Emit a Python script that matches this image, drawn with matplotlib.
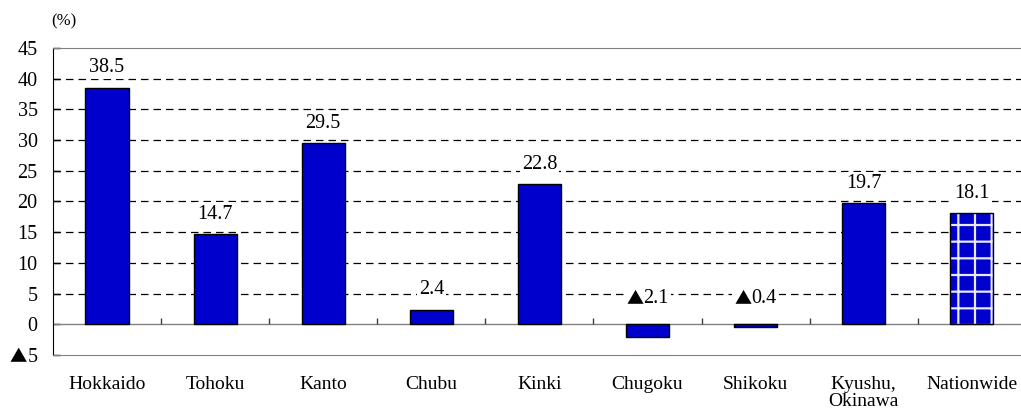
import matplotlib
matplotlib.use("Agg")
import matplotlib.pyplot as plt
from matplotlib.ticker import FixedLocator, FixedFormatter
from matplotlib.offsetbox import TextArea, HPacker, AnnotationBbox

regions = ["Hokkaido", "Tohoku", "Kanto", "Chubu", "Kinki", "Chugoku",
           "Shikoku", "Kyushu,\nOkinawa", "Nationwide"]
values = [38.5, 14.7, 29.5, 2.4, 22.8, -2.1, -0.4, 19.7, 18.1]
value_labels = ["38.5", "14.7", "29.5", "2.4", "22.8", "\u25b22.1", "\u25b20.4", "19.7", "18.1"]
y_ticks = [-5, 0, 5, 10, 15, 20, 25, 30, 35, 40, 45]
y_tick_labels = ["\u25b25", "0", "5", "10", "15", "20", "25", "30", "35", "40", "45"]

SERIF = "Liberation Serif"
MARK_FONT = "Noto Sans CJK JP"
MARK = "\u25b2"
plt.rcParams["font.family"] = [SERIF, MARK_FONT, "DejaVu Sans"]
BLUE = "#0000CC"


def marked_label(text, size):
    """Text where a leading negative marker is set in the CJK face."""
    parts = []
    if text.startswith(MARK):
        parts.append(TextArea(MARK, textprops=dict(family=MARK_FONT, size=size * 0.85)))
        text = text[1:]
    parts.append(TextArea(text, textprops=dict(family=SERIF, size=size)))
    return HPacker(children=parts, align="baseline", pad=0, sep=0)


fig = plt.figure(figsize=(10.21, 4.16), dpi=100)
ax = fig.add_axes([53 / 1021, 1 - 355 / 416, 1 - 53 / 1021, 307 / 416])

x = list(range(len(regions)))
ax.set_xlim(-0.5, 8.455)
ax.set_ylim(-5, 45)

# dashed reference lines
for t in y_ticks[2:-1]:
    ax.axhline(t, color="black", lw=0.9, ls=(0, (6, 4)), zorder=1)
ax.axhline(0, color="#808080", lw=1.0, zorder=2)

# short separators between categories on the zero line
ax.vlines([i + 0.5 for i in x[:-1]], 0, 1.0, color="#404040", lw=1.0, zorder=2)

# regional bars
ax.bar(x[:-1], values[:-1], width=0.4, color=BLUE, edgecolor="black", lw=1.0, zorder=3)

# nationwide bar with white grid pattern
plt.rcParams["hatch.linewidth"] = 1.6
ax.bar(x[-1], values[-1], width=0.4, color=BLUE, edgecolor="#E8E8FF", lw=0,
       hatch="+", zorder=3)
ax.bar(x[-1], values[-1], width=0.4, fill=False, edgecolor="black", lw=1.0, zorder=4)

# value labels
for xi, v, lab in zip(x, values, value_labels):
    base = max(v, 0)
    off = 20 if v >= 0 else 26
    ab = AnnotationBbox(marked_label(lab, 14.5), (xi, base), xybox=(0, off * 0.72),
                        boxcoords="offset points", frameon=True, box_alignment=(0.5, 0.5),
                        pad=0.15, bboxprops=dict(fc="white", ec="none"), zorder=5)
    ax.add_artist(ab)

# spines
ax.spines["right"].set_visible(False)
ax.spines["top"].set_color("#808080")
ax.spines["bottom"].set_color("#808080")
ax.spines["left"].set_color("black")

ax.yaxis.set_major_locator(FixedLocator(y_ticks))
ax.yaxis.set_major_formatter(FixedFormatter([t.lstrip(MARK) for t in y_tick_labels]))
ax.tick_params(axis="y", direction="in", length=5, width=1, pad=11, labelsize=14.5)
for t, lab in zip(y_ticks, y_tick_labels):
    if lab.startswith(MARK):
        ax.annotate(MARK, xy=(0, t), xycoords=ax.get_yaxis_transform(),
                    xytext=(-26 * 0.72, -1.5), textcoords="offset points",
                    ha="right", va="center", family=MARK_FONT, fontsize=12.5)

ax.set_xticks(x)
ax.set_xticklabels(regions, fontsize=14, linespacing=1.05)
ax.tick_params(axis="x", length=0, pad=15)

fig.text(51 / 1021, 1 - 21 / 416, "(%)", fontsize=12, ha="left", va="center", family=SERIF)

fig.savefig("out.png", dpi=100)
